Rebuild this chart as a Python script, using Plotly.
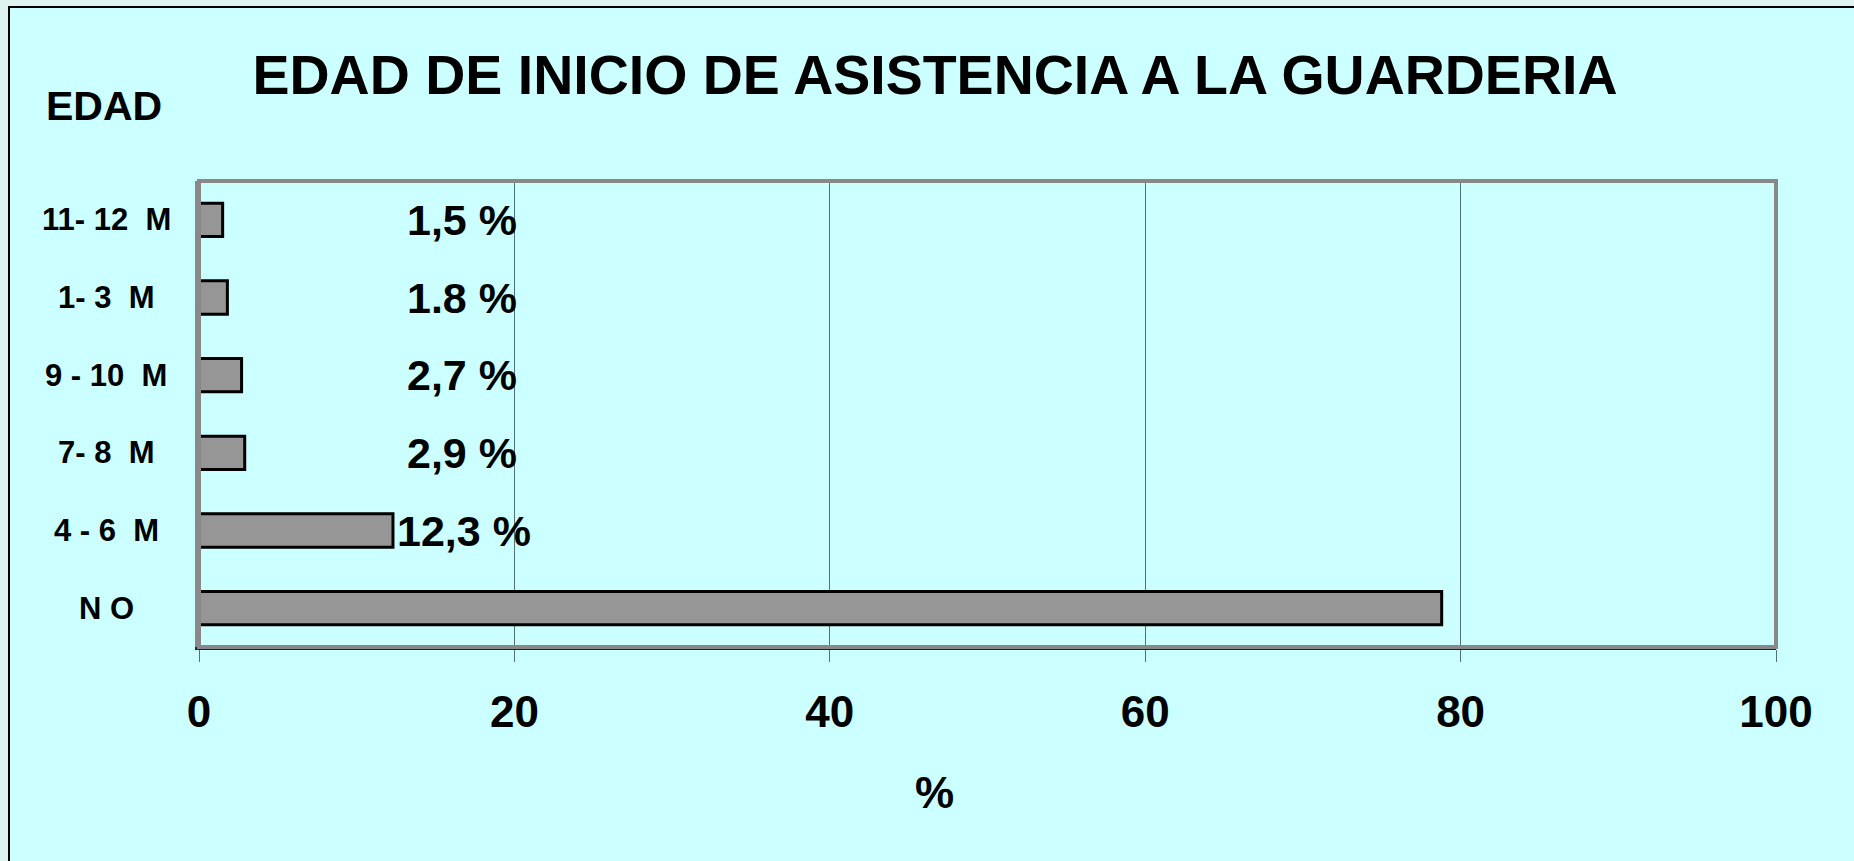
import plotly.graph_objects as go

# Data (bottom to top)
categories = ["N O", "4 - 6\u00a0\u00a0M", "7- 8\u00a0\u00a0M", "9 - 10\u00a0\u00a0M", "1- 3\u00a0\u00a0M", "11- 12\u00a0\u00a0M"]
values = [78.8, 12.3, 2.9, 2.7, 1.8, 1.5]
value_labels = ["", "12,3 %", "2,9 %", "2,7 %", "1.8 %", "1,5 %"]
x_ticks = [0, 20, 40, 60, 80, 100]

W, H = 1854, 861
L, R, T, B = 199, 1776, 181, 647
PW, PH = R - L, B - T

def px_x(px):
    return (px - L) / PW

def px_y(py):
    return (B - py) / PH

FONT = "Liberation Sans, Arial, sans-serif"

fig = go.Figure()
fig.add_trace(go.Bar(
    x=values, y=categories, orientation="h",
    marker=dict(color="#969696", line=dict(color="#000000", width=3)),
    width=0.43, hoverinfo="skip",
))

annotations = []
# value labels
for cat, v, lab in zip(categories, values, value_labels):
    if not lab:
        continue
    if v < 10:
        annotations.append(dict(x=20, y=cat, xref="x", yref="y", text=lab, showarrow=False,
                                xanchor="right", yanchor="middle", xshift=5,
                                font=dict(family=FONT, size=43, color="#000")))
    else:
        annotations.append(dict(x=v, y=cat, xref="x", yref="y", text=lab, showarrow=False,
                                xanchor="left", yanchor="middle", xshift=2,
                                font=dict(family=FONT, size=43, color="#000")))
# category labels (centered)
for cat in categories:
    annotations.append(dict(x=px_x(106), y=cat, xref="paper", yref="y", text=cat, showarrow=False,
                            xanchor="center", yanchor="middle",
                            font=dict(family=FONT, size=31, color="#000")))
# EDAD
annotations.append(dict(x=px_x(104), y=px_y(106), xref="paper", yref="paper", text="EDAD",
                        showarrow=False, xanchor="center", yanchor="middle",
                        font=dict(family=FONT, size=41, color="#000")))
# axis title %
annotations.append(dict(x=px_x(934), y=px_y(792), xref="paper", yref="paper", text="%",
                        showarrow=False, xanchor="center", yanchor="middle",
                        font=dict(family=FONT, size=44, color="#000")))

shapes = [
    # outer panel
    dict(type="rect", xref="paper", yref="paper", layer="below",
         x0=px_x(9), x1=px_x(W + 10), y0=px_y(H + 10), y1=px_y(7),
         fillcolor="#ccffff", line=dict(color="#000000", width=2)),
    # plot frame
    dict(type="rect", xref="paper", yref="paper", layer="above",
         x0=0, x1=1, y0=0, y1=1, line=dict(color="#888888", width=4)),
]

fig.update_layout(
    width=W, height=H,
    margin=dict(l=L, r=W - R, t=T, b=H - B, pad=0),
    paper_bgcolor="#dff4f0",
    plot_bgcolor="#ccffff",
    showlegend=False,
    title=dict(text="<b>EDAD DE INICIO DE ASISTENCIA A LA GUARDERIA</b>",
               x=935 / W, y=1 - 75 / H, xanchor="center", yanchor="middle",
               xref="container", yref="container",
               font=dict(family=FONT, size=55.5, color="#000")),
    font=dict(family=FONT, color="#000"),
    annotations=[dict(a, text="<b>" + a["text"] + "</b>") for a in annotations],
    shapes=shapes,
    bargap=0.57,
)
fig.update_xaxes(
    range=[0, 100], tickvals=x_ticks, ticktext=[f"<b>{t}</b>" for t in x_ticks],
    tickfont=dict(family=FONT, size=44, color="#000"),
    showgrid=True, gridcolor="#4f7373", gridwidth=1,
    ticks="outside", ticklen=12, tickcolor="#4f7373", tickwidth=1,
    showline=True, linecolor="#222222", linewidth=3,
    zeroline=False, ticklabelstandoff=12, fixedrange=True,
)
fig.update_yaxes(
    categoryorder="array", categoryarray=categories,
    showticklabels=False, showgrid=False, zeroline=False,
    showline=True, linecolor="#888888", linewidth=4, fixedrange=True,
)

fig.write_html("out.html", config={"displayModeBar": False},
               post_script="document.body.style.margin='0';document.body.style.overflow='hidden';")
